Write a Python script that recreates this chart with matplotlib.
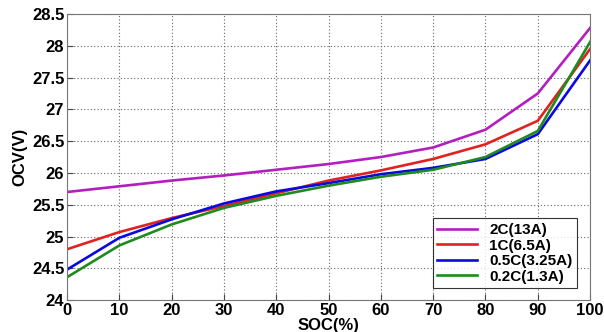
import matplotlib
matplotlib.use("Agg")
import matplotlib.pyplot as plt

plt.rcParams['font.family'] = ['Liberation Sans', 'DejaVu Sans']
plt.rcParams['font.weight'] = 'bold'

soc = [0, 10, 20, 30, 40, 50, 60, 70, 80, 90, 100]
ocv_2c = [25.70, 25.79, 25.88, 25.96, 26.05, 26.14, 26.25, 26.40, 26.68, 27.25, 28.28]
ocv_1c = [24.80, 25.07, 25.29, 25.48, 25.68, 25.88, 26.04, 26.22, 26.45, 26.82, 27.95]
ocv_05c = [24.48, 24.98, 25.27, 25.52, 25.71, 25.84, 25.98, 26.08, 26.22, 26.61, 27.77]
ocv_02c = [24.36, 24.86, 25.19, 25.45, 25.64, 25.80, 25.94, 26.05, 26.25, 26.66, 28.06]

labels = ['2C(13A)', '1C(6.5A)', '0.5C(3.25A)', '0.2C(1.3A)']
colors = ['#b31fbf', '#e0231f', '#0a0ae0', '#1f8a1f']

fig = plt.figure(figsize=(6.04, 3.32), dpi=100)
ax = fig.add_axes([0.111, 0.096, 0.866, 0.862])

for vals, lab, col in zip([ocv_2c, ocv_1c, ocv_05c, ocv_02c], labels, colors):
    ax.plot(soc, vals, color=col, linewidth=1.9, label=lab)

ax.set_xlim(0, 100)
ax.set_ylim(24, 28.5)
ax.set_xticks(soc)
ax.set_yticks([24, 24.5, 25, 25.5, 26, 26.5, 27, 27.5, 28, 28.5])
ax.set_yticklabels(['24', '24.5', '25', '25.5', '26', '26.5', '27', '27.5', '28', '28.5'])
ax.grid(True, color='#666666', linestyle=(0, (1, 2)), linewidth=0.8)
ax.tick_params(labelsize=12, direction='in', length=4, pad=2, colors='#444444', labelcolor='black')
for sp in ax.spines.values():
    sp.set_color('#777777')

ax.set_xlabel('SOC(%)', fontsize=12, fontweight='bold', labelpad=0)
ax.set_ylabel('OCV(V)', fontsize=12, fontweight='bold', labelpad=3)

leg = ax.legend(loc='lower right', fontsize=11, frameon=True, fancybox=False,
                edgecolor='black', handlelength=2.6, borderpad=0.3,
                labelspacing=0.1, bbox_to_anchor=(0.99, 0.015))
leg.get_frame().set_linewidth(0.8)
for t in leg.get_texts():
    t.set_fontweight('bold')

fig.savefig('out.png', dpi=100)
